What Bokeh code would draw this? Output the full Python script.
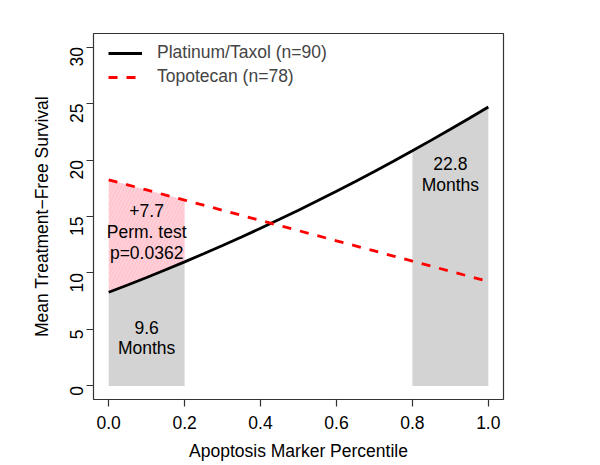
import math
from bokeh.plotting import figure
from bokeh.models import ColumnDataSource, Legend, LegendItem, FixedTicker
from bokeh.core.properties import value
from bokeh.embed import file_html
from bokeh.resources import INLINE

# ---- data ----
percentile = [0.00, 0.05, 0.10, 0.15, 0.20, 0.25, 0.30, 0.35, 0.40, 0.45, 0.50,
              0.55, 0.60, 0.65, 0.70, 0.75, 0.80, 0.85, 0.90, 0.95, 1.00]
platinum_taxol = [8.30, 8.94, 9.60, 10.28, 10.98, 11.70, 12.43, 13.18, 13.96, 14.75, 15.56,
                  16.39, 17.24, 18.10, 18.99, 19.90, 20.82, 21.76, 22.72, 23.70, 24.70]
topotecan = [18.25, 17.80, 17.35, 16.90, 16.45, 16.00, 15.55, 15.10, 14.65, 14.20, 13.75,
             13.30, 12.85, 12.40, 11.95, 11.50, 11.05, 10.60, 10.15, 9.70, 9.25]
series_labels = ["Platinum/Taxol (n=90)", "Topotecan (n=78)"]
low_band = (0.0, 0.2)
high_band = (0.8, 1.0)
low_label = ["9.6", "Months"]
high_label = ["22.8", "Months"]
perm_label = ["+7.7", "Perm. test", "p=0.0362"]
x_ticks = [0.0, 0.2, 0.4, 0.6, 0.8, 1.0]
x_tick_labels = ["0.0", "0.2", "0.4", "0.6", "0.8", "1.0"]
y_ticks = [0, 5, 10, 15, 20, 25, 30]

FONT = "Liberation Sans"
FS = "17.5px"

def band(lo, hi):
    idx = [i for i, x in enumerate(percentile) if lo - 1e-9 <= x <= hi + 1e-9]
    return ColumnDataSource(dict(
        x=[percentile[i] for i in idx],
        plat=[platinum_taxol[i] for i in idx],
        topo=[topotecan[i] for i in idx],
        zero=[0.0 for _ in idx],
    ))

p = figure(width=600, height=465, output_backend="svg", toolbar_location=None,
           x_range=(-0.04, 1.04), y_range=(-1.2, 31.2),
           min_border_left=93, min_border_top=33, min_border_right=97, min_border_bottom=66)
p.background_fill_color = "white"
p.border_fill_color = "white"
p.outline_line_color = "#333333"
p.outline_line_width = 1.2
p.xgrid.visible = False
p.ygrid.visible = False

low_src = band(*low_band)
high_src = band(*high_band)

p.varea(x="x", y1="zero", y2="plat", source=low_src, fill_color="#D3D3D3")
p.varea(x="x", y1="zero", y2="plat", source=high_src, fill_color="#D3D3D3")
p.varea(x="x", y1="plat", y2="topo", source=low_src, fill_color="#FFC6D0",
        hatch_pattern="/", hatch_color="white", hatch_alpha=0.3, hatch_scale=7, hatch_weight=1)

src = ColumnDataSource(dict(x=percentile, plat=platinum_taxol, topo=topotecan))
r1 = p.line("x", "plat", source=src, line_color="black", line_width=2.8)
r2 = p.line("x", "topo", source=src, line_color="red", line_width=2.8, line_dash="9 9")

def add_text(x, ys, lines):
    p.text(x=[x] * len(lines), y=ys, text=lines, text_font=value(FONT),
           text_font_size=FS, text_align="center", text_baseline="middle", text_color="black")

add_text(0.1, [5.2, 3.35], low_label)
add_text(0.9, [19.7, 17.75], high_label)
add_text(0.1, [15.5, 13.6, 11.8], perm_label)

legend = Legend(items=[LegendItem(label=series_labels[0], renderers=[r1]),
                       LegendItem(label=series_labels[1], renderers=[r2])],
                location=(15, 312))
legend.border_line_color = None
legend.background_fill_alpha = 0
legend.margin = 0
legend.padding = 0
legend.spacing = 3
legend.glyph_width = 34
legend.glyph_height = 20
legend.label_height = 20
legend.label_standoff = 15
legend.label_text_font = FONT
legend.label_text_font_size = FS
p.add_layout(legend, "center")

for ax in (p.xaxis[0], p.yaxis[0]):
    ax.axis_line_color = None
    ax.major_tick_line_color = "#333333"
    ax.major_tick_line_width = 1.2
    ax.major_tick_out = 7
    ax.major_tick_in = 0
    ax.minor_tick_line_color = None
    ax.major_label_text_font = FONT
    ax.major_label_text_font_size = FS
    ax.major_label_text_color = "black"
    ax.axis_label_text_font = FONT
    ax.axis_label_text_font_size = FS
    ax.axis_label_text_font_style = "normal"
    ax.axis_label_text_color = "black"

p.xaxis.ticker = FixedTicker(ticks=x_ticks)
p.xaxis.major_label_overrides = {t: l for t, l in zip(x_ticks, x_tick_labels)}
p.xaxis.axis_label = "Apoptosis Marker Percentile"
p.xaxis.major_label_standoff = 9
p.xaxis.axis_label_standoff = 9

p.yaxis.ticker = FixedTicker(ticks=y_ticks)
p.yaxis.axis_label = "Mean Treatment\u2212Free Survival"
p.yaxis.major_label_orientation = math.pi / 2
p.yaxis.major_label_standoff = 10
p.yaxis.axis_label_standoff = 9

open("out.html", "w").write(file_html(p, INLINE))
